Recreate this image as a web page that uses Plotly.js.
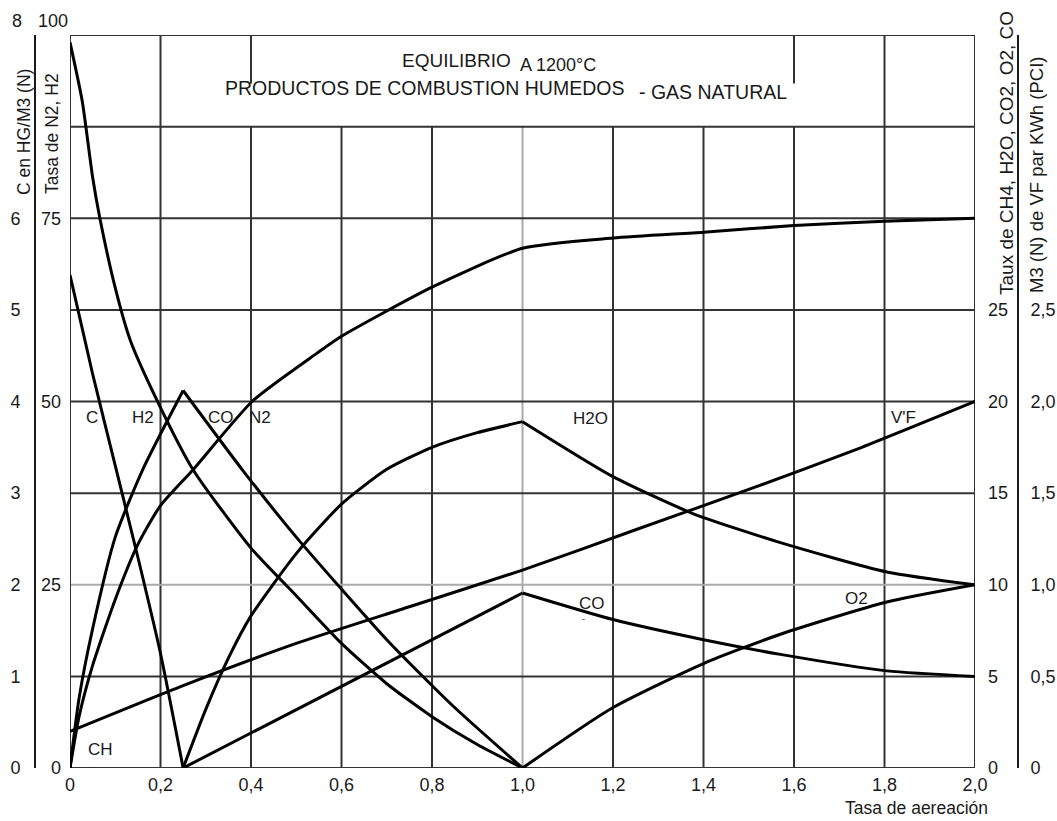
<!DOCTYPE html>
<html><head><meta charset="utf-8">
<script src="https://cdn.plot.ly/plotly-3.0.1.min.js"></script>
<style>html,body{margin:0;padding:0;background:#fff}#chart{width:1057px;height:821px}</style>
</head><body><div id="chart"></div>
<script>
// ---------- data ----------
const aerationTicks = [0, 0.2, 0.4, 0.6, 0.8, 1.0, 1.2, 1.4, 1.6, 1.8, 2.0];
const aerationTickText = ['0', '0,2', '0,4', '0,6', '0,8', '1,0', '1,2', '1,4', '1,6', '1,8', '2,0'];
const cTicks = [0, 1, 2, 3, 4, 5, 6];
const n2h2Ticks = [0, 25, 50, 75];
const tauxTicks = [0, 5, 10, 15, 20, 25];
const vfTicks = [0, 0.5, 1.0, 1.5, 2.0, 2.5];
const vfTickText = ['0', '0,5', '1,0', '1,5', '2,0', '2,5'];

// C en HG/M3 (N)
const carbonX = [0, 0.05, 0.1, 0.15, 0.2, 0.25];
const carbonY = [5.38, 4.3, 3.3, 2.3, 1.25, 0];

// Tasa de H2 (%)
const h2X = [0, 0.027, 0.05, 0.066, 0.1, 0.133, 0.192, 0.272, 0.4, 0.5, 0.6, 0.7, 0.8, 0.9, 1.0];
const h2Y = [99, 91, 80.6, 75, 65.5, 58.4, 50.2, 40.7, 30, 23.5, 17, 11.5, 7, 3.2, 0];

// Tasa de N2 (%)
const n2X = [0, 0.02, 0.05, 0.1, 0.15, 0.2, 0.272, 0.404, 0.546, 0.6, 0.8, 1.0, 1.2, 1.4, 1.6, 1.8, 2.0];
const n2Y = [0, 7, 14, 23, 30.5, 35.8, 40.7, 50.1, 56.6, 58.9, 65.6, 70.9, 72.3, 73.1, 74.0, 74.6, 75];

// Taux de CO (%)
const coX = [0, 0.02, 0.05, 0.1, 0.161, 0.25, 0.38, 0.5, 0.7, 0.85, 1.0];
const coY = [0, 3.8, 7.6, 12.6, 16.3, 20.6, 16.3, 12.6, 7.0, 3.3, 0];

// Taux de H2O (%)
const h2oX = [0.25, 0.3, 0.35, 0.4, 0.5, 0.6, 0.7, 0.8, 0.9, 1.0, 1.2, 1.375, 1.57, 1.805, 2.0];
const h2oY = [0, 3.2, 6.0, 8.3, 11.7, 14.4, 16.3, 17.5, 18.3, 18.9, 15.9, 13.9, 12.3, 10.7, 10.0];

// Taux de CO2 (%)
const co2X = [0.25, 1.0, 1.2, 1.4, 1.57, 1.805, 2.0];
const co2Y = [0, 9.55, 8.1, 7.0, 6.2, 5.3, 5.0];

// Taux de O2 (%)
const o2X = [1.0, 1.2, 1.4, 1.57, 1.805, 2.0];
const o2Y = [0, 3.3, 5.7, 7.3, 9.06, 10.0];

// M3 (N) de VF par KWh (PCI)
const vfX = [0, 0.25, 0.5, 0.75, 1.0, 1.25, 1.5, 1.75, 2.0];
const vfY = [0.2, 0.45, 0.68, 0.88, 1.08, 1.3, 1.52, 1.75, 2.0];

// ---------- drawing ----------
const FONT = 'Liberation Sans, Arial, Helvetica, sans-serif';
const INK = '#1a1a1a';
const W = 1057, H = 821, L = 70, R = 975, T = 35, B = 768;
const px = v => v / W;                  // pixel x -> paper (margins l=r=0)
const py = v => (B - v) / (B - T);      // pixel y -> paper

function curve(x, y, axis, kinks) {
  // split at sharp kinks so the spline keeps them sharp
  const cuts = [0].concat(kinks || [], [x.length - 1]);
  const out = [];
  for (let i = 0; i < cuts.length - 1; i++) {
    out.push({
      x: x.slice(cuts[i], cuts[i + 1] + 1),
      y: y.slice(cuts[i], cuts[i + 1] + 1),
      yaxis: axis, type: 'scatter', mode: 'lines',
      line: {color: '#000', width: 3, shape: 'spline', smoothing: 0.6},
      hoverinfo: 'skip', showlegend: false
    });
  }
  return out;
}

const traces = [].concat(
  curve(carbonX, carbonY, 'y'),
  curve(h2X, h2Y, 'y2'),
  curve(n2X, n2Y, 'y2'),
  curve(coX, coY, 'y3', [coX.indexOf(0.25)]),
  curve(h2oX, h2oY, 'y3', [h2oX.indexOf(1.0)]),
  curve(co2X, co2Y, 'y3', [co2X.indexOf(1.0)]),
  curve(o2X, o2Y, 'y3'),
  curve(vfX, vfY, 'y4')
);

// grid (shapes in the C-axis frame, 0..8)
const shapes = [];
const gridCol = '#333', grayCol = '#aaaaaa';
aerationTicks.forEach(v => {
  if (v === 0 || v === 2.0) return;
  const col = (v === 1.0) ? grayCol : gridCol;
  const segs = (v > 0.5 && v < 1.5) ? [[0, 7]] :
               (v === 0.4 || v === 1.6) ? [[0, 7], [7.47, 8]] : [[0, 8]];
  segs.forEach(s => shapes.push({type: 'line', xref: 'x', yref: 'y', x0: v, x1: v, y0: s[0], y1: s[1],
    line: {color: col, width: 2}, layer: 'below'}));
});
[1, 2, 3, 4, 5, 6, 7].forEach(v => {
  shapes.push({type: 'line', xref: 'x', yref: 'y', x0: 0, x1: 2, y0: v, y1: v,
    line: {color: v === 2 ? grayCol : gridCol, width: 2}, layer: 'below'});
});
// frame
shapes.push({type: 'rect', xref: 'x', yref: 'y', x0: 0, x1: 2, y0: 0, y1: 8,
  line: {color: gridCol, width: 2}, layer: 'below'});

const ann = [];
function txt(t, x, y, opt) {
  ann.push(Object.assign({text: t, x: px(x), y: py(y), xref: 'paper', yref: 'paper',
    showarrow: false, xanchor: 'center', yanchor: 'middle',
    font: {family: FONT, size: 17, color: INK}}, opt || {}));
}
const f = s => ({family: FONT, size: s, color: INK});
// title block
txt('EQUILIBRIO', 456, 61, {font: f(19)});
txt('A 1200°C', 558, 65, {font: f(18)});
txt('PRODUCTOS DE COMBUSTION HUMEDOS', 424, 88, {font: f(19.5)});
txt('- GAS NATURAL', 713, 92, {font: f(19.5)});
// curve labels
txt('C', 92, 417);
txt('H2', 143, 417);
txt('CO', 221, 417);
txt('N2', 260, 417);
txt('H2O', 590, 418);
txt("V'F", 903, 417);
txt('CO', 592, 603);
txt('-', 583, 619, {font: f(9)});
txt('O2', 856, 598);
txt('CH', 100, 749);
txt('.', 93, 765, {font: f(9)});
// top tick labels that sit above the frame
txt('8', 17, 21, {font: f(18)});
txt('100', 53, 21, {font: f(18)});
// axis titles
txt('C en HG/M3 (N)', 24, 132, {textangle: -90, font: f(17.5)});
txt('Tasa de N2, H2', 52, 134, {textangle: -90, font: f(17.5)});
txt('Taux de CH4, H2O, CO2, O2, CO', 1006, 153, {textangle: -90, font: f(19)});
txt('M3 (N) de VF par KWh (PCI)', 1036, 175, {textangle: -90, font: f(18.5)});
txt('Tasa de aereación', 916, 808, {font: f(17.5)});

const tickFont = f(18);
const layout = {
  width: W, height: H,
  margin: {l: 0, r: 0, t: T, b: H - B, pad: 0},
  paper_bgcolor: '#fff', plot_bgcolor: '#fff',
  showlegend: false,
  xaxis: {domain: [L / W, R / W], range: [0, 2], tickmode: 'array', tickvals: aerationTicks,
    ticktext: aerationTickText, ticks: '', showgrid: false, zeroline: false, showline: false,
    tickfont: tickFont, ticklabelstandoff: 4, fixedrange: true},
  yaxis: {range: [0, 8], anchor: 'free', position: 35 / W, side: 'left', showline: true,
    linecolor: INK, linewidth: 2, tickmode: 'array', tickvals: cTicks, ticktext: cTicks.map(String),
    ticks: '', showgrid: false, zeroline: false, tickfont: tickFont, ticklabelstandoff: 10},
  yaxis2: {range: [0, 100], overlaying: 'y', anchor: 'x', side: 'left', tickmode: 'array',
    tickvals: n2h2Ticks, ticktext: n2h2Ticks.map(String), ticks: '', showgrid: false,
    zeroline: false, showline: false, tickfont: tickFont, ticklabelstandoff: 8},
  yaxis3: {range: [0, 40], overlaying: 'y', anchor: 'x', side: 'right', tickmode: 'array',
    tickvals: tauxTicks, ticktext: tauxTicks.map(String), ticks: '', showgrid: false,
    zeroline: false, showline: false, tickfont: tickFont, ticklabelstandoff: 12},
  yaxis4: {range: [0, 4], overlaying: 'y', anchor: 'free', position: 1018 / W, side: 'right',
    showline: true, linecolor: INK, linewidth: 2, tickmode: 'array', tickvals: vfTicks,
    ticktext: vfTickText, ticks: '', showgrid: false, zeroline: false, tickfont: tickFont,
    ticklabelstandoff: 8},
  shapes: shapes,
  annotations: ann,
  font: {family: FONT, color: INK}
};

Plotly.newPlot('chart', traces, layout, {staticPlot: true, displayModeBar: false});
</script>
</body></html>
